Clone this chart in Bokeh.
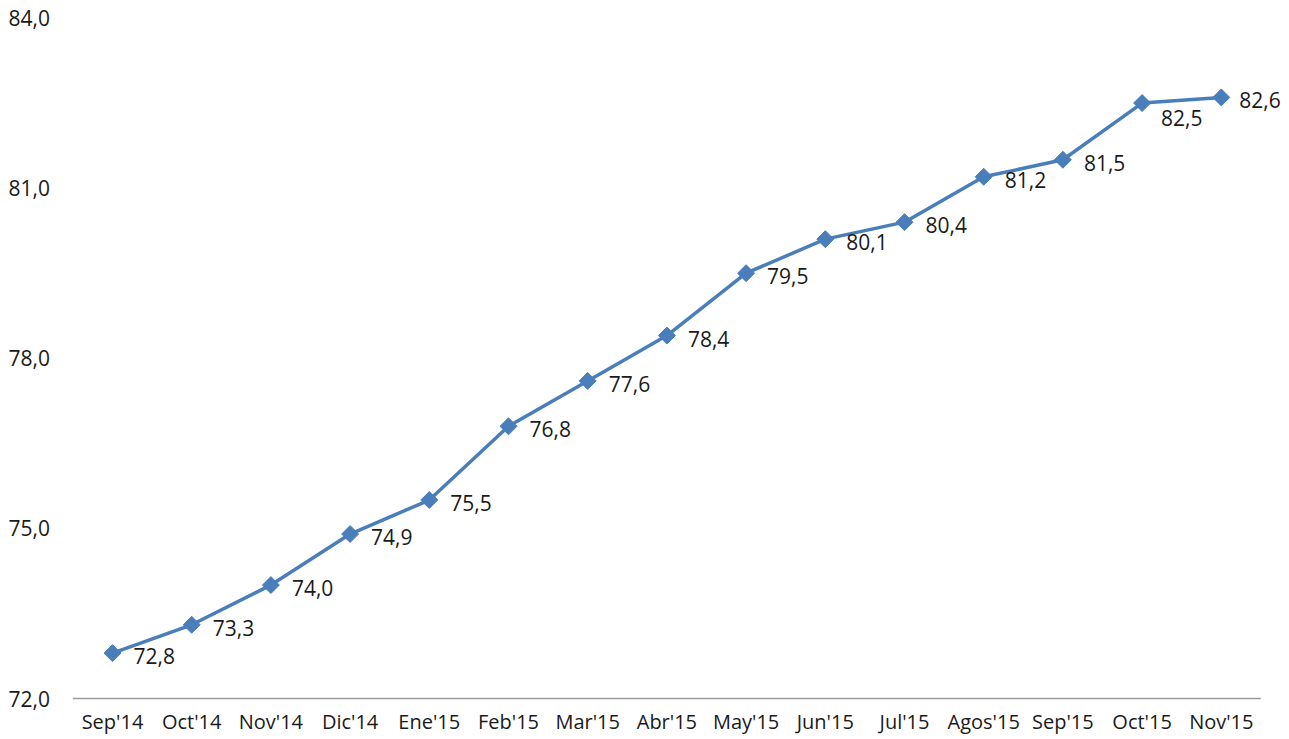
import math
from bokeh.plotting import figure
from bokeh.models import ColumnDataSource, Range1d, LabelSet
from bokeh.core.properties import value
from bokeh.embed import file_html
from bokeh.resources import INLINE

months = ["Sep'14", "Oct'14", "Nov'14", "Dic'14", "Ene'15", "Feb'15", "Mar'15",
          "Abr'15", "May'15", "Jun'15", "Jul'15", "Agos'15", "Sep'15", "Oct'15", "Nov'15"]
values = [72.8, 73.3, 74.0, 74.9, 75.5, 76.8, 77.6, 78.4, 79.5, 80.1, 80.4, 81.2, 81.5, 82.5, 82.6]
y_ticks = [72, 75, 78, 81, 84]

n = len(months)
idx = list(range(n))
labels = [f"{v:.1f}".replace(".", ",") for v in values]
tick_labels = [f"{t:.1f}".replace(".", ",") for t in y_ticks]

# label placement (style): right of the point, Oct'15 placed below
x_offs = [21] * n
y_offs = [-3] * n
x_offs[13] = 19
y_offs[13] = -15
x_offs[14] = 18

# ---- layout geometry in canvas pixels (style only) ----
W, H = 1289, 739
CAT_PX = 79.2           # width of one category
FIRST_PX = 112          # centre of first category
TOP_PX, BASE_PX = 17.5, 698
y_lo, y_hi = y_ticks[0], y_ticks[-1]
ppu = (BASE_PX - TOP_PX) / (y_hi - y_lo)
x_start = -FIRST_PX / CAT_PX
x_end = x_start + W / CAT_PX
y_end = y_hi + TOP_PX / ppu
y_start = y_lo - (H - BASE_PX) / ppu

src = ColumnDataSource(dict(x=idx, y=values, lab=labels, xo=x_offs, yo=y_offs))
msrc = ColumnDataSource(dict(x=idx, y=[y_lo] * n, lab=months))
ysrc = ColumnDataSource(dict(x=[-0.5] * len(y_ticks), y=y_ticks, lab=tick_labels))

FONT = "Open Sans"
p = figure(x_range=Range1d(x_start, x_end), y_range=Range1d(y_start, y_end),
           width=W, height=H, output_backend="svg", toolbar_location=None,
           x_axis_location=None, y_axis_location=None,
           min_border_left=0, min_border_right=0, min_border_top=0, min_border_bottom=0)
p.outline_line_color = None
p.xgrid.grid_line_color = None
p.ygrid.grid_line_color = None
p.background_fill_color = "white"

# category axis baseline spanning the categories only
p.segment(x0=[-0.5], x1=[n - 0.5], y0=[y_lo], y1=[y_lo],
          line_color="#9a9a9a", line_width=1.3)

p.line("x", "y", source=src, line_color="#4A7EBB", line_width=3.5)
p.scatter("x", "y", source=src, marker="square", size=12, angle=math.pi / 4,
          fill_color="#4A7EBB", line_color="#4A7EBB", line_width=1)
p.add_layout(LabelSet(x="x", y="y", text="lab", source=src, x_offset="xo", y_offset="yo",
                      text_font=value(FONT), text_font_size="21px", text_color="#1a1a1a",
                      text_align="left", text_baseline="middle"))
# month (category) labels under the baseline
p.add_layout(LabelSet(x="x", y="y", text="lab", source=msrc, y_offset=-23,
                      text_font=value(FONT), text_font_size="20px", text_color="#1a1a1a",
                      text_align="center", text_baseline="middle"))
# value-axis tick labels
p.add_layout(LabelSet(x="x", y="y", text="lab", source=ysrc, x_offset=-23,
                      text_font=value(FONT), text_font_size="21px", text_color="#1a1a1a",
                      text_align="right", text_baseline="middle"))

open("out.html", "w").write(file_html(p, INLINE))
